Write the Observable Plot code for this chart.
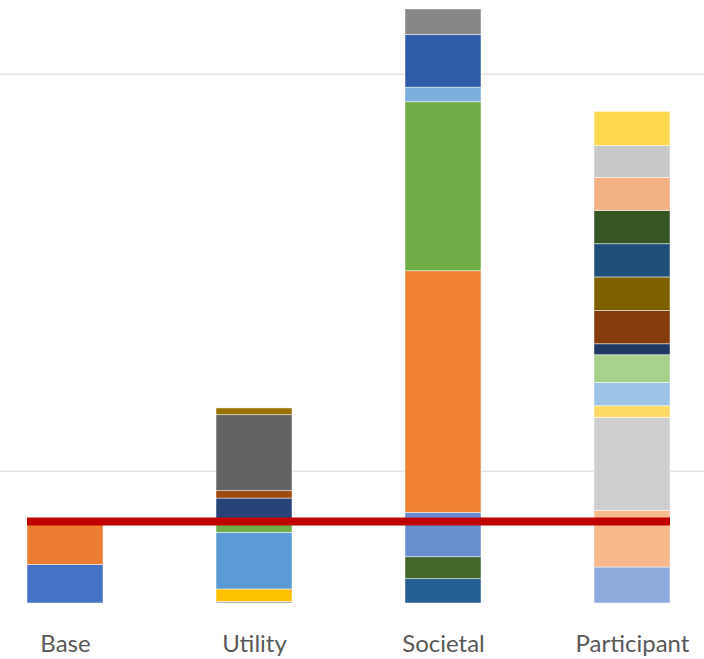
<!DOCTYPE html>
<html>
<head>
<meta charset="utf-8">
<script src="https://cdn.jsdelivr.net/npm/d3@7"></script>
<script src="https://cdn.jsdelivr.net/npm/@observablehq/plot@0.6"></script>
<style>
  html, body { margin: 0; padding: 0; background: #ffffff; }
  #chart { width: 704px; height: 659px; overflow: hidden; }
</style>
</head>
<body>
<div id="chart"></div>
<script>
const categories = ["Base", "Utility", "Societal", "Participant"];

const baseValues = [29.2, 33.7];
const baseColors = ["#4472C4", "#ED7D31"];

const utilityValues = [1.2, 9.4, 42.8, 6.5, 19.4, 5.6, 57.4, 5.1];
const utilityColors = ["#A5A5A5", "#FFC000", "#5B9BD5", "#70AD47", "#264478", "#9E480E", "#636363", "#997300"];

const societalValues = [18.4, 16.6, 33.5, 182.6, 127.7, 11.0, 39.7, 19.4];
const societalColors = ["#255E91", "#43682B", "#698ED0", "#F08133", "#70AD47", "#7CAFDD", "#2F5CA9", "#878787"];

const participantValues = [27.2, 42.8, 70.3, 8.8, 17.6, 20.9, 8.3, 25.2, 25.3, 25.1, 25.2, 24.9, 24.2, 25.7];
const participantColors = ["#8FAADC", "#F8B98C", "#CFCFCF", "#FFD966", "#9DC3E6", "#A9D18E", "#203864", "#843C0C", "#7F6000", "#1F4E79", "#375623", "#F4B183", "#C9C9C9", "#FFD84E"];

const threshold = 62;
const gridValues = [100, 400];

const seriesValues = [baseValues, utilityValues, societalValues, participantValues];
const seriesColors = [baseColors, utilityColors, societalColors, participantColors];

const rows = [];
categories.forEach((cat, ci) => {
  seriesValues[ci].forEach((v, si) => {
    rows.push({category: cat, id: cat + "-" + si, value: v, color: seriesColors[ci][si]});
  });
});

const thresholdRow = [{y: threshold, from: categories[0], to: categories[categories.length - 1]}];

const chart = Plot.plot({
  width: 704,
  height: 659,
  marginLeft: 0,
  marginRight: 0,
  marginTop: 7.5,
  marginBottom: 56,
  style: {fontFamily: "Lato, 'Liberation Sans', sans-serif", background: "#ffffff"},
  x: {domain: categories, range: [0, 696], paddingInner: 0.6, paddingOuter: 0.1316, axis: null},
  y: {domain: [0, 450], axis: null},
  color: {type: "identity"},
  marks: [
    Plot.ruleY(gridValues, {stroke: "#E4E4E4", strokeWidth: 1.5}),
    Plot.barY(rows, {x: "category", y: "value", z: "id", fill: "color", order: null, stroke: "#ffffff", strokeWidth: 0.8, strokeOpacity: 0.6}),
    Plot.ruleY(thresholdRow, {y: "y", x1: "from", x2: "to", stroke: "#C00000", strokeWidth: 8}),
    Plot.axisX({tickSize: 0, tickPadding: 31, fontSize: 24, fill: "#595959", label: null})
  ]
});

document.getElementById("chart").appendChild(chart);
</script>
</body>
</html>
